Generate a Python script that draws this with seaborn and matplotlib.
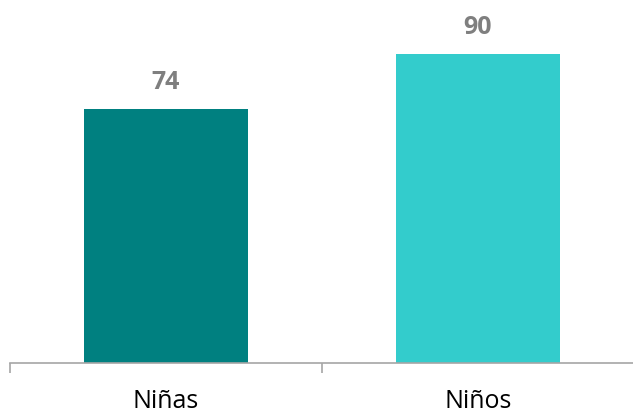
import matplotlib
matplotlib.use("Agg")
import matplotlib.pyplot as plt
import seaborn as sns
import pandas as pd

categories = ["Niñas", "Niños"]
values = [74, 90]
colors = ["#008080", "#33CCCC"]

sns.set_theme(style="white")
plt.rcParams["font.family"] = ["Open Sans", "DejaVu Sans"]

df = pd.DataFrame({"grupo": categories, "valor": values})

fig = plt.figure(figsize=(6.33, 4.16), dpi=100)
ax = fig.add_axes([10 / 633, 1 - 363 / 416, 624 / 633, 343 / 416])

sns.barplot(data=df, x="grupo", y="valor", hue="grupo", palette=colors,
            width=0.526, saturation=1, legend=False, linewidth=0, ax=ax)

ax.set_xlim(-0.5, 1.5)
ax.set_ylim(0, 100)

for i, v in enumerate(values):
    ax.annotate(f"{v}", (i, v), xytext=(0, 10), textcoords="offset points",
                ha="center", va="bottom", fontsize=18, fontweight="bold",
                color="#7F7F7F", annotation_clip=False)

for side in ["top", "right", "left"]:
    ax.spines[side].set_visible(False)
ax.spines["bottom"].set_color("#A6A6A6")
ax.spines["bottom"].set_linewidth(1.2)

ax.set_yticks([])
ax.set_xlabel("")
ax.set_ylabel("")
ax.set_xticks([0, 1])
ax.set_xticklabels(categories)
ax.set_xticks([-0.5, 0.5, 1.5], minor=True)
ax.tick_params(axis="x", which="major", length=0, pad=19, labelsize=18,
               labelcolor="#000000")
ax.tick_params(axis="x", which="minor", bottom=True, length=7.5, width=1.2,
               color="#A6A6A6")

fig.savefig("out.png", dpi=100)
